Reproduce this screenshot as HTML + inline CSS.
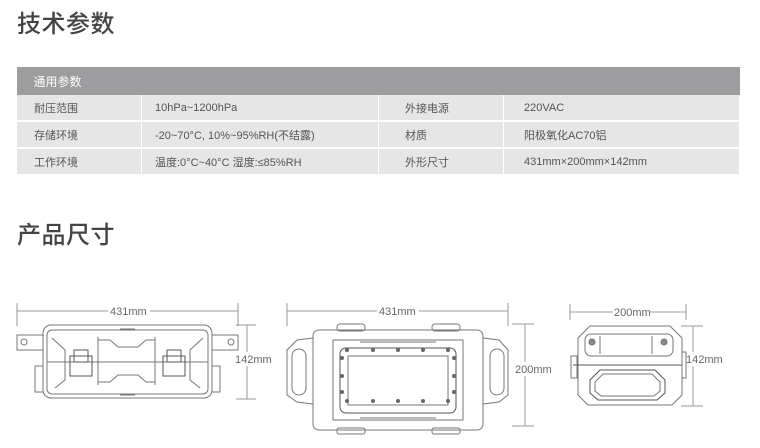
<!DOCTYPE html>
<html><head><meta charset="utf-8"><style>
body{margin:0;width:760px;height:448px;background:#fff;position:relative;overflow:hidden;font-family:"Liberation Sans","Noto Sans CJK SC",sans-serif;color:#555}
.t{position:absolute;left:17px;font-size:24px;font-weight:500;color:#444;letter-spacing:0.5px;line-height:24px}
table{position:absolute;left:16px;top:67px;width:724px;border-collapse:collapse;font-size:11px;color:#555;table-layout:fixed}
td{background:#e6e6e6;height:25px;padding:0 0 0 17px;border:2px solid #fff;border-top:0;border-left-width:1px;border-right-width:1px}
th{background:#9d9d9f;color:#fff;font-weight:normal;text-align:left;height:26px;padding-left:17px;font-size:12px}
svg{position:absolute;left:0;top:0}
svg text{font-family:"Liberation Sans",sans-serif;font-size:11px;fill:#666}
</style></head><body>
<div class="t" style="top:13px">技术参数</div>
<table>
<colgroup><col style="width:125px"><col style="width:237px"><col style="width:125px"><col></colgroup>
<tr><th colspan="4">通用参数</th></tr>
<tr><td>耐压范围</td><td style="padding-left:13px">10hPa~1200hPa</td><td style="padding-left:26px">外接电源</td><td style="padding-left:20px">220VAC</td></tr>
<tr><td>存储环境</td><td style="padding-left:13px">-20~70°C, 10%~95%RH(不结露)</td><td style="padding-left:26px">材质</td><td style="padding-left:20px">阳极氧化AC70铝</td></tr>
<tr><td>工作环境</td><td style="padding-left:13px">温度:0°C~40°C 湿度:≤85%RH</td><td style="padding-left:26px">外形尺寸</td><td style="padding-left:20px">431mm×200mm×142mm</td></tr>
</table>
<div class="t" style="top:224px">产品尺寸</div>
<svg width="760" height="448" fill="none" stroke="#777" stroke-width="1">
<line x1="17" y1="311" x2="238" y2="311" stroke="#999"/>
<line x1="17" y1="303" x2="17" y2="326" stroke="#999"/><line x1="238" y1="303" x2="238" y2="326" stroke="#999"/>
<rect x="108" y="304" width="42" height="12" fill="#fff" stroke="none"/>
<text x="110" y="315" stroke="none">431mm</text>
<line x1="247" y1="325" x2="247" y2="399" stroke="#999"/>
<line x1="236" y1="325" x2="256" y2="325" stroke="#999"/><line x1="236" y1="399" x2="256" y2="399" stroke="#999"/>
<rect x="235" y="352" width="34" height="14" fill="#fff" stroke="none"/>
<text x="235" y="363" stroke="none">142mm</text>
<rect x="43" y="325" width="169" height="73" rx="8"/>
<rect x="47" y="330" width="161" height="64" rx="5"/>
<rect x="17" y="335" width="26" height="15"/><circle cx="24" cy="342" r="3"/>
<rect x="212" y="335" width="26" height="15"/><circle cx="231" cy="342" r="3"/>
<rect x="35" y="366" width="8" height="26"/><rect x="212" y="366" width="8" height="26"/>
<line x1="98" y1="337" x2="98" y2="385"/><line x1="155" y1="337" x2="155" y2="385"/>
<line x1="47" y1="362" x2="208" y2="362"/>
<path d="M98 340 L110 340 L118 347 L138 347 L146 340 L155 340"/>
<path d="M98 382 L110 382 L118 375 L138 375 L146 382 L155 382"/>
<path d="M52 338 L65 350 L65 380 L55 388"/><path d="M203 338 L190 350 L190 380 L200 388"/>
<rect x="70" y="356" width="22" height="20" stroke="#555"/><rect x="74" y="350" width="14" height="12" stroke="#555"/>
<rect x="163" y="356" width="22" height="20" stroke="#555"/><rect x="167" y="350" width="14" height="12" stroke="#555"/>
<line x1="120" y1="329" x2="135" y2="329"/><line x1="120" y1="395" x2="135" y2="395"/>
<line x1="287" y1="311" x2="508" y2="311" stroke="#999"/>
<line x1="287" y1="303" x2="287" y2="326" stroke="#999"/><line x1="508" y1="303" x2="508" y2="326" stroke="#999"/>
<rect x="377" y="304" width="42" height="12" fill="#fff" stroke="none"/>
<text x="379" y="315" stroke="none">431mm</text>
<line x1="525" y1="324" x2="525" y2="426" stroke="#999"/>
<line x1="512" y1="324" x2="534" y2="324" stroke="#999"/><line x1="512" y1="426" x2="534" y2="426" stroke="#999"/>
<rect x="514" y="362" width="36" height="14" fill="#fff" stroke="none"/>
<text x="515" y="373" stroke="none">200mm</text>
<rect x="313" y="330" width="170" height="100" rx="6"/>
<rect x="333" y="340" width="130" height="80"/>
<rect x="340" y="348" width="116" height="65" rx="6" stroke="#555"/>
<rect x="348" y="356" width="100" height="49"/>
<path d="M313 338 L297 340 L287 350 L287 395 L297 402 L313 404"/>
<path d="M483 338 L499 340 L508 350 L508 395 L499 402 L483 404"/>
<rect x="292" y="349" width="14" height="46" rx="7"/><rect x="490" y="349" width="14" height="46" rx="7"/>
<rect x="337" y="324" width="28" height="7" rx="3"/><rect x="432" y="324" width="28" height="7" rx="3"/>
<rect x="337" y="428" width="28" height="6" rx="2"/><rect x="432" y="428" width="28" height="6" rx="2"/>
<line x1="360" y1="342" x2="436" y2="342"/><line x1="360" y1="418" x2="436" y2="418"/>
<g fill="#666" stroke="none">
<circle cx="347" cy="350" r="2"/><circle cx="373" cy="350" r="2"/><circle cx="398" cy="350" r="2"/><circle cx="423" cy="350" r="2"/><circle cx="448" cy="350" r="2"/>
<circle cx="347" cy="401" r="2"/><circle cx="373" cy="401" r="2"/><circle cx="398" cy="401" r="2"/><circle cx="423" cy="401" r="2"/><circle cx="448" cy="401" r="2"/>
<circle cx="342" cy="358" r="2"/><circle cx="342" cy="376" r="2"/><circle cx="342" cy="392" r="2"/>
<circle cx="454" cy="358" r="2"/><circle cx="454" cy="376" r="2"/><circle cx="454" cy="392" r="2"/>
</g>
<line x1="570" y1="312" x2="686" y2="312" stroke="#999"/>
<line x1="570" y1="304" x2="570" y2="320" stroke="#999"/><line x1="686" y1="304" x2="686" y2="320" stroke="#999"/>
<rect x="613" y="306" width="36" height="12" fill="#fff" stroke="none"/>
<text x="614" y="316" stroke="none">200mm</text>
<line x1="693" y1="326" x2="693" y2="406" stroke="#999"/>
<line x1="681" y1="326" x2="703" y2="326" stroke="#999"/><line x1="681" y1="406" x2="703" y2="406" stroke="#999"/>
<rect x="685" y="352" width="36" height="14" fill="#fff" stroke="none"/>
<text x="686" y="363" stroke="none">142mm</text>
<path d="M590 326 L670 326 L682 338 L682 395 L672 405 L588 405 L578 395 L578 338 Z"/>
<rect x="585" y="334" width="88" height="22" rx="6"/>
<line x1="600" y1="336" x2="600" y2="354"/><line x1="652" y1="336" x2="652" y2="354"/>
<circle cx="592" cy="342" r="3" fill="#888"/><circle cx="664" cy="342" r="3" fill="#888"/>
<line x1="573" y1="365" x2="682" y2="365" stroke="#555"/>
<rect x="571" y="356" width="6" height="22"/><rect x="682" y="352" width="4" height="26"/>
<path d="M600 370 L655 370 L665 380 L665 393 L657 400 L598 400 L590 393 L590 380 Z" stroke="#555"/>
<path d="M603 374 L652 374 L660 382 L660 391 L654 396 L601 396 L595 391 L595 382 Z"/>
</svg>
</body></html>
